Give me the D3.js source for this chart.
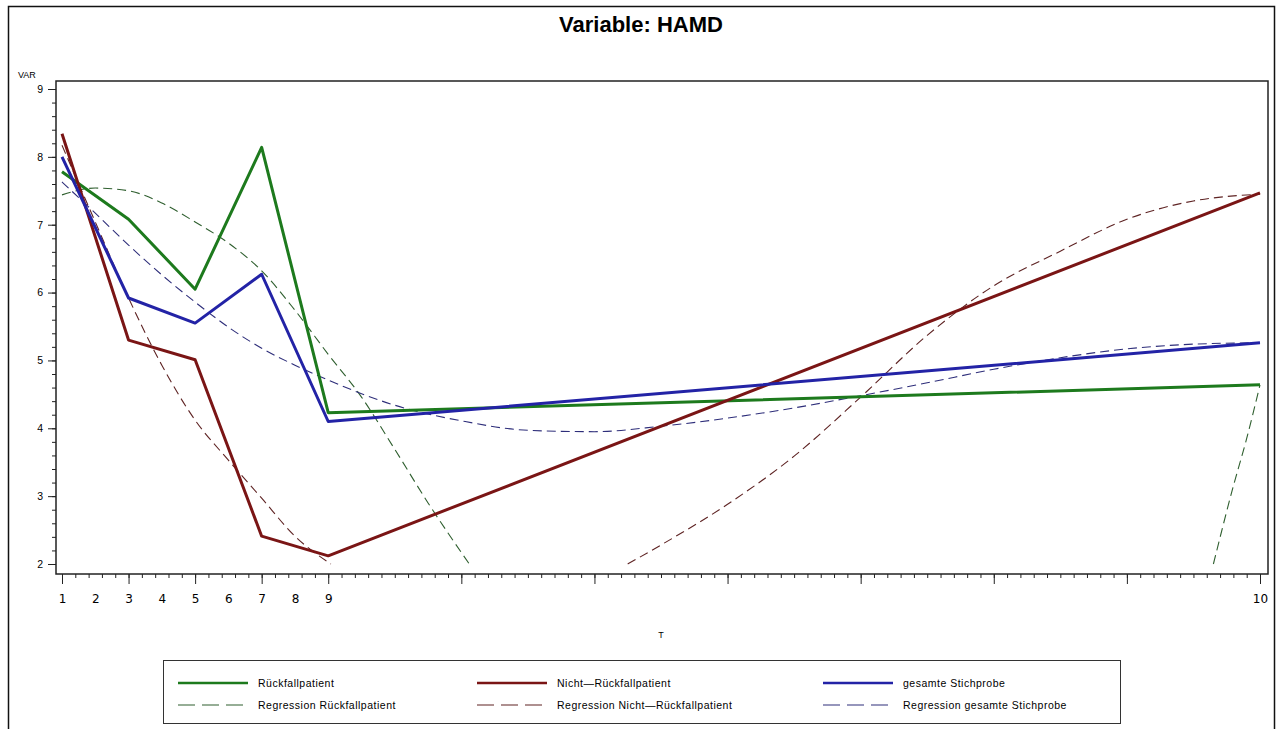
<!DOCTYPE html>
<html>
<head>
<meta charset="utf-8">
<script src="https://cdn.jsdelivr.net/npm/d3@7"></script>
<style>
  body { margin: 0; background: #fff; }
  svg { display: block; font-family: "Liberation Sans", Arial, sans-serif; }
</style>
</head>
<body>
<svg id="chart"></svg>
<script>
// measurement points on the T axis (position units) and mean values
var xPos = [0, 5, 10, 15, 20, 90];
var rueckfall = [7.78, 7.08, 6.05, 8.14, 4.23, 4.64];
var nichtRueckfall = [8.34, 5.30, 5.01, 2.41, 2.12, 7.47];
var gesamt = [8.00, 5.92, 5.55, 6.27, 4.10, 5.26];

// regression curves (null = outside the drawn range)
var regRueckX = [0, 2.5, 5, 7.5, 10, 12.5, 15, 17.5, 20, 22.5, 25, 27.5, 30.6, 60, 86.5, 88, 89, 90];
var regRueckY = [7.44, 7.54, 7.50, 7.32, 7.04, 6.73, 6.32, 5.74, 5.09, 4.46, 3.69, 2.90, 2.00, null, 2.00, 3.15, 3.85, 4.64];
var regNichtX = [0, 2.5, 5, 7.5, 10, 12.5, 15, 17.5, 20.2, 30, 42.5, 45, 50, 55, 60, 65, 70, 75, 80, 85, 90];
var regNichtY = [8.17, 7.04, 5.92, 4.93, 4.12, 3.53, 2.97, 2.41, 2.00, null, 2.00, 2.28, 2.88, 3.59, 4.46, 5.37, 6.10, 6.61, 7.08, 7.35, 7.45];
var regGesamtX = [0, 2.5, 5, 7.5, 10, 12.5, 15, 17.5, 20, 25, 30, 35, 40, 45, 50, 55, 60, 65, 70, 75, 80, 85, 90];
var regGesamtY = [7.63, 7.17, 6.70, 6.26, 5.86, 5.49, 5.18, 4.93, 4.71, 4.34, 4.11, 3.97, 3.95, 4.03, 4.15, 4.30, 4.48, 4.67, 4.87, 5.04, 5.17, 5.24, 5.26];

var xTickLabels = ["1", "2", "3", "4", "5", "6", "7", "8", "9", "10"];
var xTickPos = [0, 2.5, 5, 7.5, 10, 12.5, 15, 17.5, 20, 90];
var xMajor = [0, 5, 10, 15, 20, 30, 40, 50, 60, 70, 80, 90];
var yTicks = [2, 3, 4, 5, 6, 7, 8, 9];

var legendNames = ["Rückfallpatient", "Nicht\u2014Rückfallpatient", "gesamte Stichprobe",
    "Regression Rückfallpatient", "Regression Nicht\u2014Rückfallpatient", "Regression gesamte Stichprobe"];

var colors = ["#1d7a1d", "#7a1515", "#2323a6"];
var dashColors = ["#2f5f2f", "#5e2323", "#2e2e7a"];

var width = 1280, height = 729;
var svg = d3.select("#chart").attr("width", width).attr("height", height);

var x = d3.scaleLinear().domain([0, 90]).range([62, 1260]);
var y = d3.scaleLinear().domain([2, 9]).range([564, 89]);

// outer border
svg.append("rect")
    .attr("x", 8.5).attr("y", 6.5).attr("width", 1266).attr("height", 740)
    .attr("fill", "none").attr("stroke", "#111").attr("stroke-width", 1.5);

svg.append("text")
    .attr("x", 641).attr("y", 32)
    .attr("text-anchor", "middle")
    .style("font-size", "22px").style("font-weight", "bold")
    .text("Variable:  HAMD");

// plot frame
svg.append("rect")
    .attr("x", 56).attr("y", 81).attr("width", 1212).attr("height", 493)
    .attr("fill", "none").attr("stroke", "#222").attr("stroke-width", 1.5);

// y axis: minor ticks every 0.2, majors on integers
svg.append("g")
    .attr("transform", "translate(56,0)")
    .call(d3.axisLeft(y).tickValues(d3.range(20, 91, 2).map(d => d / 10)).tickSize(4).tickFormat(""))
    .call(g => g.select(".domain").remove());
svg.append("g")
    .attr("transform", "translate(56,0)")
    .call(d3.axisLeft(y).tickValues(yTicks).tickSize(8).tickPadding(5).tickFormat(d3.format("d")))
    .call(g => g.select(".domain").remove())
    .call(g => g.selectAll("text").style("font-size", "10.5px").style("font-family", "Liberation Sans, Arial"));

svg.append("text")
    .attr("x", 18).attr("y", 78)
    .style("font-size", "9px")
    .text("VAR");

// x axis
svg.append("g")
    .attr("transform", "translate(0,574)")
    .call(d3.axisBottom(x).tickValues(d3.range(0, 91)).tickSize(4).tickFormat(""))
    .call(g => g.select(".domain").remove());
svg.append("g")
    .attr("transform", "translate(0,574)")
    .call(d3.axisBottom(x).tickValues(xMajor).tickSize(10).tickFormat(""))
    .call(g => g.select(".domain").remove());
svg.append("g")
    .attr("transform", "translate(0,574)")
    .call(d3.axisBottom(x).tickValues(xTickPos).tickSize(0).tickPadding(20)
        .tickFormat((d, i) => xTickLabels[i]))
    .call(g => g.select(".domain").remove())
    .call(g => g.selectAll("text").style("font-size", "12px").style("font-family", "DejaVu Sans"));
svg.selectAll(".tick line").attr("stroke", "#222");

svg.append("text")
    .attr("x", 661).attr("y", 638)
    .attr("text-anchor", "middle")
    .style("font-size", "9px")
    .text("T");

var line = d3.line()
    .defined(d => d[1] != null)
    .x(d => x(d[0]))
    .y(d => y(d[1]));

var regs = [[regRueckX, regRueckY], [regNichtX, regNichtY], [regGesamtX, regGesamtY]];
regs.forEach(function(r, i) {
    svg.append("path")
        .datum(d3.zip(r[0], r[1]))
        .attr("d", line.curve(d3.curveMonotoneX))
        .attr("fill", "none")
        .attr("stroke", dashColors[i])
        .attr("stroke-width", 1.1)
        .attr("stroke-dasharray", "9,5");
});

var series = [rueckfall, nichtRueckfall, gesamt];
line.curve(d3.curveLinear);
series.forEach(function(s, i) {
    svg.append("path")
        .datum(d3.zip(xPos, s))
        .attr("d", line)
        .attr("fill", "none")
        .attr("stroke", colors[i])
        .attr("stroke-width", 3)
        .attr("stroke-linejoin", "round");
});

// legend
svg.append("rect")
    .attr("x", 163.5).attr("y", 660.5).attr("width", 957).attr("height", 63)
    .attr("fill", "none").attr("stroke", "#333").attr("stroke-width", 1);

var colX = [178, 477, 823];
var rowY = [683, 705];
legendNames.forEach(function(name, i) {
    var col = i % 3, row = Math.floor(i / 3);
    svg.append("line")
        .attr("x1", colX[col]).attr("x2", colX[col] + 70)
        .attr("y1", rowY[row]).attr("y2", rowY[row])
        .attr("stroke", row === 0 ? colors[col] : dashColors[col])
        .attr("stroke-width", row === 0 ? 2.5 : 1.1)
        .attr("stroke-dasharray", row === 0 ? null : "17,7");
    svg.append("text")
        .attr("x", colX[col] + 80).attr("y", rowY[row] + 4)
        .style("font-size", "10.5px")
        .style("letter-spacing", "0.5px")
        .text(name);
});
</script>
</body>
</html>
